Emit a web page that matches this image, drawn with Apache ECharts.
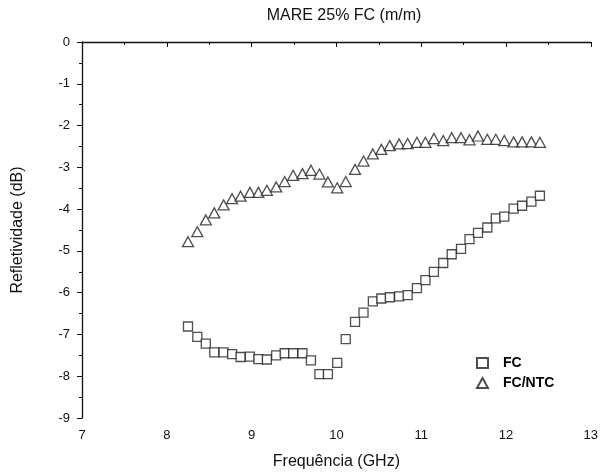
<!DOCTYPE html>
<html>
<head>
<meta charset="utf-8">
<script src="https://cdn.jsdelivr.net/npm/echarts@6/dist/echarts.min.js"></script>
<style>
  html, body { margin: 0; padding: 0; background: #fff; }
  #container { width: 601px; height: 475px; }
</style>
</head>
<body>
<div id="container"></div>
<script type="text/javascript">
// frequencias (GHz)
var freq = [8.25, 8.36, 8.46, 8.56, 8.67, 8.77, 8.87, 8.98, 9.08, 9.18,
            9.29, 9.39, 9.49, 9.60, 9.70, 9.80, 9.90, 10.01, 10.11, 10.22,
            10.32, 10.43, 10.53, 10.63, 10.74, 10.84, 10.95, 11.05, 11.15, 11.26,
            11.36, 11.47, 11.57, 11.67, 11.78, 11.88, 11.98, 12.09, 12.19, 12.30, 12.40];
// refletividade FC (dB)
var fc = [-6.81, -7.06, -7.22, -7.43, -7.43, -7.47, -7.54, -7.53, -7.59, -7.60,
          -7.50, -7.45, -7.45, -7.45, -7.62, -7.95, -7.95, -7.68, -7.11, -6.70,
          -6.48, -6.21, -6.14, -6.11, -6.09, -6.06, -5.89, -5.70, -5.50, -5.29,
          -5.08, -4.95, -4.72, -4.57, -4.44, -4.22, -4.18, -3.99, -3.92, -3.82, -3.68];
// refletividade FC/NTC (dB)
var fcNtc = [-4.78, -4.54, -4.26, -4.09, -3.90, -3.75, -3.69, -3.60, -3.60, -3.55,
             -3.47, -3.34, -3.19, -3.15, -3.07, -3.16, -3.35, -3.49, -3.34, -3.05,
             -2.85, -2.68, -2.57, -2.48, -2.44, -2.43, -2.40, -2.40, -2.31, -2.36,
             -2.29, -2.29, -2.34, -2.25, -2.33, -2.33, -2.36, -2.39, -2.39, -2.39, -2.40];

function pares(xs, ys) {
    var out = [];
    for (var i = 0; i < xs.length; i++) {
        out.push([xs[i], ys[i]]);
    }
    return out;
}

var dom = document.getElementById("container");
var myChart = echarts.init(dom, null, { renderer: 'canvas' });
var fonte = 'Liberation Sans, Arial, sans-serif';

var option = {
    animation: false,
    backgroundColor: '#fff',
    title: {
        text: 'MARE 25% FC (m/m)',
        left: 339,
        top: 3,
        textAlign: 'center',
        textStyle: { fontFamily: fonte, fontSize: 16, fontWeight: 'normal', color: '#111' }
    },
    legend: {
        orient: 'vertical',
        left: 471,
        top: 351,
        itemWidth: 11,
        itemHeight: 10,
        itemGap: 6,
        textStyle: { fontFamily: fonte, fontSize: 14, fontWeight: 'bold', color: '#000', padding: [0, 0, 0, 10] },
        data: [
            { name: 'FC', icon: 'rect' },
            { name: 'FC/NTC', icon: 'triangle' }
        ]
    },
    grid: {
        left: 82,
        right: 5,
        top: 42,
        bottom: 56
    },
    xAxis: {
        type: 'value',
        min: 7,
        max: 13,
        interval: 1,
        name: 'Frequência (GHz)',
        nameLocation: 'middle',
        nameGap: 36,
        nameTextStyle: { fontFamily: fonte, fontSize: 16, color: '#111' },
        axisLine: { lineStyle: { color: '#111', width: 1.3 } },
        axisTick: { inside: false, length: 5, lineStyle: { color: '#111' } },
        minorTick: { show: true, splitNumber: 2, length: 3, lineStyle: { color: '#111' } },
        axisLabel: { fontFamily: fonte, fontSize: 13, color: '#111', margin: 11 },
        splitLine: { show: false }
    },
    yAxis: {
        type: 'value',
        min: -9,
        max: 0,
        interval: 1,
        name: 'Refletividade (dB)',
        nameLocation: 'middle',
        nameGap: 56,
        nameRotate: 90,
        nameTextStyle: { fontFamily: fonte, fontSize: 16, color: '#111' },
        axisLine: { show: true, lineStyle: { color: '#111', width: 1.3 } },
        axisTick: { show: true, length: 5, lineStyle: { color: '#111' } },
        minorTick: { show: true, splitNumber: 2, length: 3, lineStyle: { color: '#111' } },
        axisLabel: { fontFamily: fonte, fontSize: 13, color: '#111', margin: 12 },
        splitLine: { show: false }
    },
    series: [
        {
            name: 'FC',
            type: 'scatter',
            symbol: 'rect',
            symbolSize: 9,
            itemStyle: { color: '#fff', borderColor: '#222', borderWidth: 1.3 },
            data: pares(freq, fc)
        },
        {
            name: 'FC/NTC',
            type: 'scatter',
            symbol: 'triangle',
            symbolSize: [11, 10],
            itemStyle: { color: '#fff', borderColor: '#222', borderWidth: 1.3 },
            data: pares(freq, fcNtc)
        }
    ]
};

myChart.setOption(option);
</script>
</body>
</html>
